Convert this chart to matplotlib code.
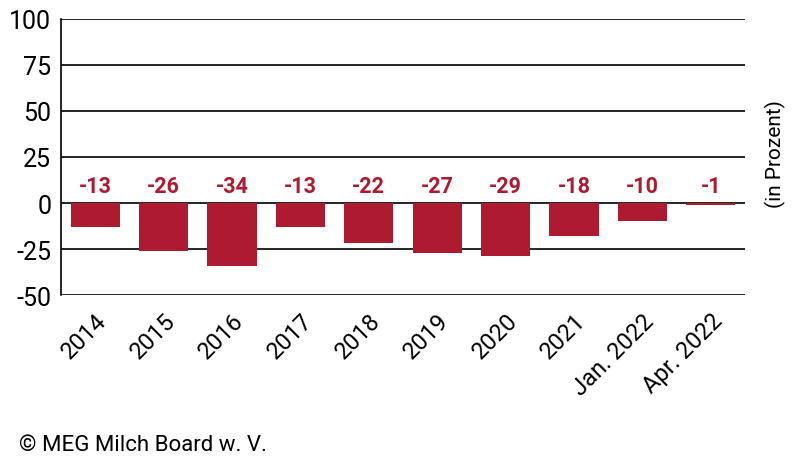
import matplotlib
matplotlib.use('Agg')
import matplotlib.pyplot as plt

categories = ["2014", "2015", "2016", "2017", "2018", "2019", "2020", "2021",
              "Jan. 2022", "Apr. 2022"]
values = [-13, -26, -34, -13, -22, -27, -29, -18, -10, -1]
y_ticks = [-50, -25, 0, 25, 50, 75, 100]

bar_color = "#ae1a2f"


def main():
    fig = plt.figure(figsize=(8, 4.64), dpi=100)
    ax = fig.add_axes([0.07625, 0.362, 0.855, 0.595])

    x = list(range(len(categories)))
    ax.bar(x, values, width=0.72, color=bar_color, zorder=2)

    # value labels above the zero line
    for xi, v in zip(x, values):
        ax.text(xi, 9, str(v), ha="center", va="center", color=bar_color,
                fontsize=15.5, fontweight="bold", family="Roboto")

    ax.set_xlim(-0.5, len(categories) - 0.5)
    ax.set_ylim(-50, 100)
    ax.set_yticks(y_ticks)
    ax.set_yticklabels([str(t) for t in y_ticks], fontsize=18, family="Roboto")
    ax.yaxis.grid(True, color="black", linewidth=1.2, zorder=1)
    ax.set_axisbelow(True)

    ax.set_xticks(x)
    ax.set_xticklabels(categories, rotation=45, ha="right",
                       rotation_mode="anchor", fontsize=17, family="Roboto")

    ax.tick_params(axis="y", length=0, pad=7)
    ax.tick_params(axis="x", length=0, pad=10)
    for side in ["top", "right", "bottom"]:
        ax.spines[side].set_visible(False)
    ax.spines["left"].set_linewidth(1.2)

    fig.text(0.969, 0.668, "(in Prozent)", rotation=90, ha="center", va="center",
             fontsize=15, family="Roboto")
    fig.text(0.024, 0.04, "\u00a9 MEG Milch Board w. V.", ha="left", va="center",
             fontsize=16, family="Roboto")

    fig.savefig("out.png", dpi=100)


if __name__ == "__main__":
    main()
